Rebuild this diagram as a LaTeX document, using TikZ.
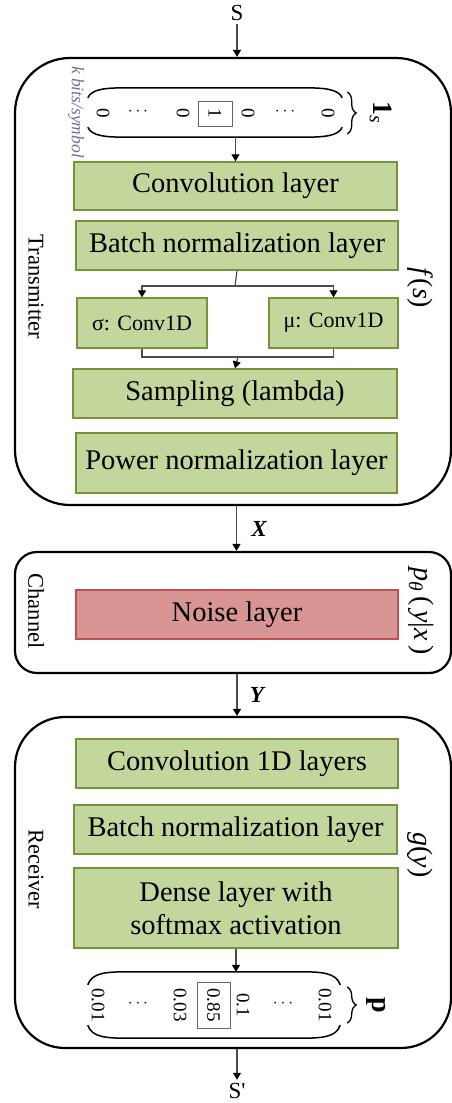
\documentclass[tikz,border=0pt]{standalone}
\usepackage{fontspec}
\setmainfont{Liberation Serif}
\usetikzlibrary{arrows.meta,calc,decorations.pathreplacing}

\definecolor{layerfill}{RGB}{195,214,155}
\definecolor{layerline}{RGB}{118,146,60}
\definecolor{noisefill}{RGB}{217,149,148}
\definecolor{noiseline}{RGB}{192,80,77}
\definecolor{bitsgray}{RGB}{105,115,140}

\begin{document}
\begin{tikzpicture}[x=1pt,y=-1pt,
  >={Triangle[width=8pt,length=7pt,black]},
  layer/.style={draw=layerline,fill=layerfill,line width=1.3pt,shape=rectangle,inner sep=0pt,
    minimum width=322pt,minimum height=49pt,align=center,font=\fontsize{28.5}{33}\selectfont},
  noise/.style={layer,draw=noiseline,fill=noisefill},
  block/.style={draw,line width=2.2pt,shape=rectangle,minimum width=436pt},
  side/.style={rotate=-90,font=\fontsize{22.5}{26}\selectfont},
  fn/.style={rotate=-90,font=\fontsize{28}{32}\selectfont},
  entry/.style={rotate=-90,inner sep=1pt,font=\fontsize{19}{22}\selectfont},
  pick/.style={entry,draw=black!60,line width=0.8pt,inner sep=0pt},
  dots/.style={inner sep=0pt,font=\fontsize{19}{22}\selectfont},
  arc/.style={line width=1.5pt},
  link/.style={draw=black!70,line width=1.2pt}]

  \useasboundingbox (0,0) rectangle (452,1103);

  \draw (233,281.5) node [block,minimum height=447pt,rounded corners=55pt] (tx) {};

  \draw (233,612.5) node [block,minimum height=121pt,rounded corners=22pt] (ch) {};

  \draw (233,882.5) node [block,minimum height=331pt,rounded corners=50pt] (rx) {};

  \draw (237,13) node [font=\fontsize{23}{26}\selectfont] (s) {S};

  \draw (237,1091) node [font=\fontsize{23}{26}\selectfont] (sout) {S\textquotesingle};

  \draw (76,112) node [rotate=-90,text=bitsgray,font=\fontsize{17.5}{20}\selectfont\itshape] (bits) {k bits/symbol};

  \draw (215,112.5) node [shape=rectangle,minimum width=254pt,minimum height=49pt] (onehot) {};

  \draw (103,113) node [entry] (b1) {0};
  \draw (138,112) node [dots] (d1) {$\cdots$};
  \draw (183,113) node [entry] (b2) {0};
  \draw (215,113.5) node [pick,minimum width=25pt,minimum height=34pt] (b3) {1};
  \draw (248,113) node [entry] (b4) {0};
  \draw (285,112) node [dots] (d2) {$\cdots$};
  \draw (328,113) node [entry] (b5) {0};

  \draw (381,113) node [fn] (ones) {\textbf{1}\textsubscript{\textit{s}}};

  \draw (235.5,186) node [layer,minimum width=323pt,minimum height=48pt] (conv) {Convolution layer};

  \draw (237,245.5) node [layer] (batchT) {Batch normalization layer};

  \draw (142,323) node [layer,minimum width=130pt,minimum height=50pt,font=\fontsize{22}{26}\selectfont] (sigma) {σ: Conv1D};

  \draw (333.5,323) node [layer,minimum width=129pt,minimum height=50pt,font=\fontsize{22}{26}\selectfont] (mu) {μ: Conv1D};

  \draw (235,393.5) node [layer,minimum width=324pt] (sampling) {Sampling (lambda)};

  \draw (236.5,463) node [layer,minimum width=321pt,minimum height=60pt] (power) {Power normalization layer};

  \draw (237,614.5) node [noise] (noise) {Noise layer};

  \draw (237,763.5) node [layer] (conv1d) {Convolution 1D layers};

  \draw (235.5,829.5) node [layer,minimum width=323pt] (batchR) {Batch normalization layer};

  \draw (236,908) node [layer,minimum width=324pt,minimum height=80pt] (dense) {Dense layer with\\softmax activation};

  \draw (214,1005) node [shape=rectangle,minimum width=252pt,minimum height=66pt] (pvec) {};

  \draw (98,1005) node [entry] (p1) {0.01};
  \draw (138,1004) node [dots] (d3) {$\cdots$};
  \draw (180,1005) node [entry] (p2) {0.03};
  \draw (213.5,1005) node [pick,minimum width=46pt,minimum height=33pt] (p3) {0.85};
  \draw (243,1005) node [entry] (p4) {0.1};
  \draw (283,1004) node [dots] (d4) {$\cdots$};
  \draw (325,1005) node [entry] (p5) {0.01};

  \draw (376,1005) node [fn] (prob) {\textbf{p}};

  \draw (36,287) node [side] (txlab) {Transmitter};
  \draw (420,288) node [fn] (f) {\textit{f}(\textit{s})};
  \draw (36,611) node [side] (chlab) {Channel};
  \draw (421,611) node [fn] (pth) {\textit{p}\textsubscript{\textit{θ}}\,(\,\textit{y}|\textit{x}\,)};
  \draw (36,869) node [side] (rxlab) {Receiver};
  \draw (420,855) node [fn] (g) {\textit{g}(\textit{y})};

  \draw[arc] ($(onehot.north west)+(0,10)$) .. controls ($(onehot.north west)+(4,1)$) and ($(onehot.north west)+(18,0)$) .. ($(onehot.north west)+(40,0)$)
    -- ($(onehot.north east)+(-40,0)$) .. controls ($(onehot.north east)+(-18,0)$) and ($(onehot.north east)+(-4,1)$) .. ($(onehot.north east)+(0,10)$);
  \draw[arc] ($(onehot.south west)+(0,-10)$) .. controls ($(onehot.south west)+(4,-1)$) and ($(onehot.south west)+(18,0)$) .. ($(onehot.south west)+(40,0)$)
    -- ($(onehot.south east)+(-40,0)$) .. controls ($(onehot.south east)+(-18,0)$) and ($(onehot.south east)+(-4,-1)$) .. ($(onehot.south east)+(0,-10)$);
  \draw[arc] ($(pvec.north west)+(0,13)$) .. controls ($(pvec.north west)+(4,1)$) and ($(pvec.north west)+(18,0)$) .. ($(pvec.north west)+(40,0)$)
    -- ($(pvec.north east)+(-40,0)$) .. controls ($(pvec.north east)+(-18,0)$) and ($(pvec.north east)+(-4,1)$) .. ($(pvec.north east)+(0,13)$);
  \draw[arc] ($(pvec.south west)+(0,-13)$) .. controls ($(pvec.south west)+(4,-1)$) and ($(pvec.south west)+(18,0)$) .. ($(pvec.south west)+(40,0)$)
    -- ($(pvec.south east)+(-40,0)$) .. controls ($(pvec.south east)+(-18,0)$) and ($(pvec.south east)+(-4,-1)$) .. ($(pvec.south east)+(0,-13)$);

  \draw[decorate,decoration={brace,amplitude=9pt},line width=1.3pt] (onehot.east |- 0,92) ++(5,0) -- ++(0,42);
  \draw[decorate,decoration={brace,amplitude=9pt},line width=1.3pt] (pvec.east |- 0,987) ++(7,0) -- ++(0,36);

  \coordinate (split) at (235,286);
  \coordinate (merge) at (238,357);

  \draw[link,->] (s) -- (s |- tx.north);
  \draw[link,->] (conv.north |- onehot.south) -- (conv.north);
  \draw[link] (batchT.south) -- (split);
  \draw[link,->] (split) -| (sigma.north);
  \draw[link,->] (split) -| (mu.north);
  \draw[link] (sigma.south) |- (merge) -| (mu.south);
  \draw[link,->] (merge) -- (sampling.north);
  \draw[link,->] (power.south |- tx.south) -- (power.south |- ch.north) node [midway,right=11pt,font=\fontsize{23}{26}\selectfont] (xlab) {\textbf{\textit{X}}};
  \draw[link,->] (noise.south |- ch.south) -- (noise.south |- rx.north) node [midway,right=9pt,font=\fontsize{23}{26}\selectfont] (ylab) {\textbf{\textit{Y}}};
  \draw[link,->] (dense.south) -- (dense.south |- pvec.north);
  \draw[link,->] (sout |- rx.south) -- (sout);

\end{tikzpicture}
\end{document}
